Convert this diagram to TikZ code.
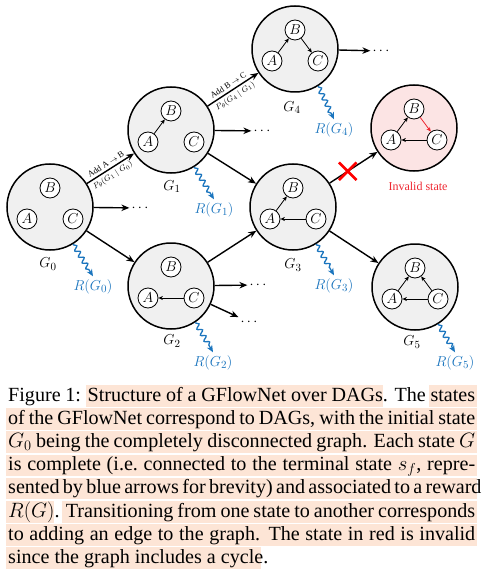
\documentclass[tikz,border=0pt]{standalone}
\usepackage{fontspec}
\newfontfamily\capfont{Liberation Serif}
\usetikzlibrary{arrows.meta,decorations.pathmorphing,shapes.misc}
\definecolor{gfill}{gray}{0.94}
\definecolor{pinkfill}{RGB}{252,228,228}
\definecolor{rblue}{RGB}{27,117,190}
\definecolor{hl}{RGB}{253,229,214}
\definecolor{invred}{RGB}{238,40,50}
\newcommand\mkstate[4]{%
  \node[state,#4] (#1) at (#2,#3) {};
  \node[vert] (#1B) at ([shift={(0,-19)}]#1.center) {$B$};
  \node[vert] (#1A) at ([shift={(-23,12)}]#1.center) {$A$};
  \node[vert] (#1C) at ([shift={(23,12)}]#1.center) {$C$};
}
\begin{document}
\begin{tikzpicture}[x=1pt,y=-1pt,
  state/.style={circle, draw, line width=1.5pt, fill=gfill, minimum size=86pt, inner sep=0pt},
  vert/.style={circle, draw, line width=0.8pt, fill=white, minimum size=20pt, inner sep=0pt, font=\fontsize{14}{14}\selectfont},
  inner/.style={-{Stealth[length=4.5pt,width=4pt]}, line width=0.8pt},
  trans/.style={-{Stealth[length=8pt,width=6.5pt]}, line width=1.4pt},
  rew/.style={-{Stealth[length=7pt,width=6pt]}, draw=rblue, line width=1.3pt, decorate,
     decoration={snake, amplitude=2.3pt, segment length=7pt, pre length=1pt, post length=6pt}},
  glab/.style={font=\fontsize{15}{15}\selectfont},
  rlab/.style={text=rblue, font=\fontsize{15}{15}\selectfont},
  dots/.style={font=\fontsize{14}{14}\selectfont, inner sep=2pt},
  elab/.style={font=\capfont\fontsize{8.5}{8.5}\selectfont, sloped, inner sep=1pt},
  capline/.style={anchor=base west, inner sep=0pt, font=\capfont\fontsize{20.1}{23}\selectfont}
]
\useasboundingbox (0,0) rectangle (488,585);

% states
\mkstate{G0}{50}{207}{}
\mkstate{G1}{171}{130}{}
\mkstate{G4}{295}{49}{}
\mkstate{Inv}{414}{128}{fill=pinkfill}
\mkstate{G3}{293}{207}{}
\mkstate{G2}{171}{286}{}
\mkstate{G5}{415}{287}{}

% inner edges
\draw[inner] (G1A) -- (G1B);
\draw[inner] (G4A) -- (G4B);
\draw[inner] (G4B) -- (G4C);
\draw[inner] (InvA) -- (InvB);
\draw[inner, draw=invred] (InvB) -- (InvC);
\draw[inner] (InvC) -- (InvA);
\draw[inner] (G3A) -- (G3B);
\draw[inner] (G3C) -- (G3A);
\draw[inner] (G2C) -- (G2A);
\draw[inner] (G5A) -- (G5B);
\draw[inner] (G5C) -- (G5B);
\draw[inner] (G5C) -- (G5A);

% state labels
\node[glab] (lG0) at (48,264) {$G_0$};
\node[glab] (lG1) at (172,187) {$G_1$};
\node[glab] (lG4) at (292,108) {$G_4$};
\node[glab] (lG3) at (293,265) {$G_3$};
\node[glab] (lG2) at (172,341) {$G_2$};
\node[glab] (lG5) at (412,342) {$G_5$};
\node[font=\capfont\fontsize{12}{12}\selectfont, text=invred] (lInv) at (418,186) {Invalid state};

% reward labels
\node[rlab] (RG0) at (93,287) {$R(G_0)$};
\node[rlab] (RG1) at (214,210) {$R(G_1)$};
\node[rlab] (RG4) at (334,130) {$R(G_4)$};
\node[rlab] (RG3) at (334,286) {$R(G_3)$};
\node[rlab] (RG2) at (213,363) {$R(G_2)$};
\node[rlab] (RG5) at (455,363) {$R(G_5)$};

% dots
\node[dots] (d0) at (140,208) {$\cdots$};
\node[dots] (d1) at (262,131) {$\cdots$};
\node[dots] (d4) at (381,51) {$\cdots$};
\node[dots] (d2a) at (258,285) {$\cdots$};
\node[dots] (d2b) at (249,322) {$\cdots$};

% transitions
\draw[trans] (G0) -- node[elab, above=1.5pt, pos=0.47] {Add A $\rightarrow$ B} node[elab, below=1.5pt, pos=0.47] {$P_\theta(G_1\mid G_0)$} (G1);
\draw[trans] (G1) -- node[elab, above=1.5pt, pos=0.47] {Add B $\rightarrow$ C} node[elab, below=1.5pt, pos=0.47] {$P_\theta(G_4\mid G_1)$} (G4);
\draw[trans] (G0) -- (d0);
\draw[trans] (G0) -- (G2);
\draw[trans] (G1) -- (d1);
\draw[trans] (G1) -- (G3);
\draw[trans] (G4) -- (d4);
\draw[trans] (G2) -- (G3);
\draw[trans] (G2) -- (d2a);
\draw[trans] (G2) -- (d2b);
\draw[trans] (G3) -- (G5);
\draw[trans] (G3) -- node[pos=0.38, cross out, draw=red, line width=2.6pt, minimum size=15pt, inner sep=0pt] (X) {} (Inv);

% rewards
\draw[rew] (G0.-58) -- (RG0.north);
\draw[rew] (G1.-58) -- (RG1.north);
\draw[rew] (G4.-58) -- (RG4.north);
\draw[rew] (G3.-58) -- (RG3.north);
\draw[rew] (G2.-56) -- (RG2.north);
\draw[rew] (G5.-58) -- (RG5.north);

% caption highlights
\def\bA{401}\def\bB{424.2}\def\bC{447.4}\def\bD{470.6}\def\bE{493.8}\def\bF{517}\def\bG{540.2}\def\bH{563.4}
\fill[hl] (86,\bA-16) rectangle (383,\bA+5.5);
\fill[hl] (429,\bA-16) rectangle (477,\bA+5.5);
\foreach \b in {\bB,\bC,\bD,\bE,\bG} {\fill[hl] (6,\b-16) rectangle (477,\b+5.5);}
\fill[hl] (6,\bF-16) rectangle (54,\bF+5.5);
\fill[hl] (62,\bF-16) rectangle (477,\bF+5.5);
\fill[hl] (6,\bH-16) rectangle (261,\bH+5.5);

% caption text
\node[capline] (c1) at (8,\bA) {\makebox[467pt][s]{Figure 1: Structure of a GFlowNet over DAGs. The states}};
\node[capline] (c2) at (8,\bB) {\makebox[467pt][s]{of the GFlowNet correspond to DAGs, with the initial state}};
\node[capline] (c3) at (8,\bC) {\makebox[467pt][s]{$G_0$ being the completely disconnected graph. Each state $G$}};
\node[capline] (c4) at (8,\bD) {\makebox[467pt][s]{is complete (i.e.\ connected to the terminal state $s_f$, repre-}};
\node[capline] (c5) at (8,\bE) {\makebox[467pt][s]{sented by blue arrows for brevity) and associated to a reward}};
\node[capline] (c6) at (8,\bF) {\makebox[467pt][s]{$R(G)$. Transitioning from one state to another corresponds}};
\node[capline] (c7) at (8,\bG) {\makebox[467pt][s]{to adding an edge to the graph. The state in red is invalid}};
\node[capline] (c8) at (8,\bH) {since the graph includes a cycle.};
\end{tikzpicture}
\end{document}
